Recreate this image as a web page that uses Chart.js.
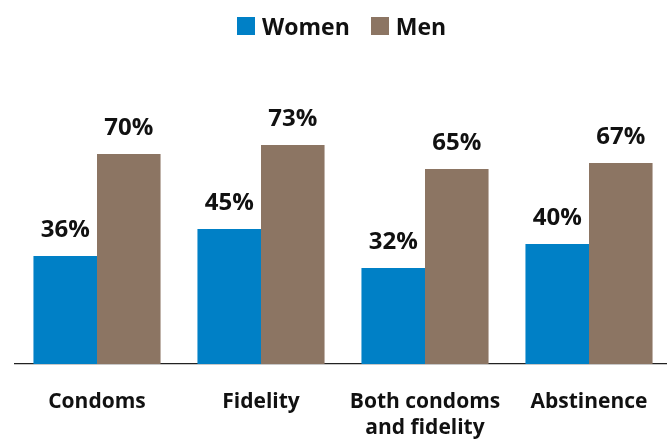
<!DOCTYPE html>
<html><head><meta charset="utf-8">
<script src="https://cdn.jsdelivr.net/npm/chart.js@4.4.0/dist/chart.umd.min.js"></script>
<style>
html,body{margin:0;padding:0;background:#fff;overflow:hidden;width:667px;height:439px;}
#wrap{position:relative;width:671px;height:439px;}
#legend{position:absolute;top:17px;left:237px;display:flex;align-items:center;font-family:"Open Sans",sans-serif;font-weight:700;font-size:23px;line-height:18px;color:#111;}
.item{display:flex;align-items:center;margin-right:21px;}
.box{width:18px;height:18px;margin-right:7px;}
</style></head><body>
<div id="wrap">
<canvas id="c" width="671" height="439" style="width:671px;height:439px;"></canvas>
<div id="legend"></div>
</div>
<script>
const categories = ["Condoms", "Fidelity", ["Both condoms", "and fidelity"], "Abstinence"];
const women = [36, 45, 32, 40];
const men = [70, 73, 65, 67];
const seriesNames = ["Women", "Men"];
const colors = ["#0080C6", "#8C7563"];

const lg = document.getElementById('legend');
seriesNames.forEach((n,i)=>{
  const it=document.createElement('div');it.className='item';
  const b=document.createElement('div');b.className='box';b.style.background=colors[i];
  const t=document.createElement('span');t.textContent=n;
  it.appendChild(b);it.appendChild(t);lg.appendChild(it);
});

const labelPlugin = {
  id:'vals',
  afterDatasetsDraw(chart){
    const ctx=chart.ctx;
    ctx.save();
    ctx.font='700 24px "Open Sans", sans-serif';
    ctx.fillStyle='#111';
    ctx.textAlign='center';
    ctx.textBaseline='alphabetic';
    chart.data.datasets.forEach((ds,di)=>{
      chart.getDatasetMeta(di).data.forEach((bar,i)=>{
        ctx.fillText(ds.data[i]+'%', bar.x, bar.y-19);
      });
    });
    ctx.restore();
  }
};

new Chart(document.getElementById('c'), {
  type:'bar',
  data:{
    labels:categories,
    datasets:[
      {label:seriesNames[0], data:women, backgroundColor:colors[0], categoryPercentage:0.775, barPercentage:1},
      {label:seriesNames[1], data:men, backgroundColor:colors[1], categoryPercentage:0.775, barPercentage:1}
    ]
  },
  options:{
    responsive:false, animation:false,
    layout:{padding:{top:64,left:15,right:0,bottom:0}},
    plugins:{legend:{display:false}, tooltip:{enabled:false}},
    scales:{
      y:{display:false, min:0, max:100},
      x:{
        grid:{display:false},
        border:{display:true, color:'#222', width:1.2},
        ticks:{color:'#111', font:{family:'"Open Sans", sans-serif', weight:'700', size:21, lineHeight:1.24}, padding:17, maxRotation:0, autoSkip:false},
        afterFit(scale){ scale.height = 75; }
      }
    }
  },
  plugins:[labelPlugin]
});
</script>
</body></html>
